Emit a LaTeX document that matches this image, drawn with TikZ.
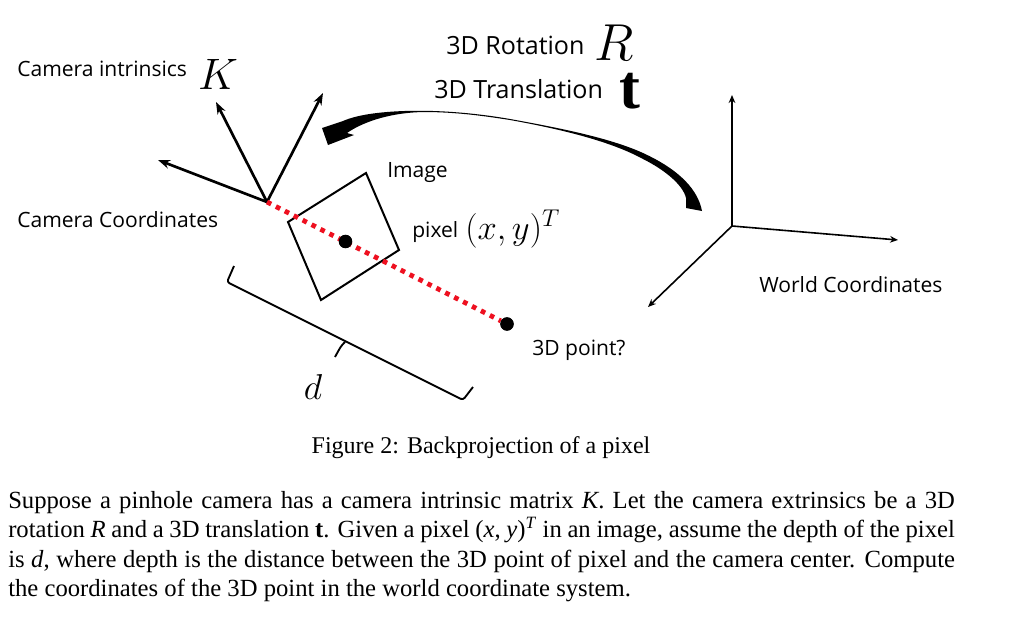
\RequirePackage{fix-cm}
\documentclass[tikz,border=0pt]{standalone}
\usepackage{amsmath,amssymb}
\usepackage{fontspec}
\usepackage{xcolor}
\setmainfont{Liberation Serif}
\newfontfamily\labelfont{Open Sans}
\usetikzlibrary{arrows.meta,positioning,calc}
\definecolor{rayred}{RGB}{238,16,32}

\begin{document}
\begin{tikzpicture}[
    x=0.75pt, y=-0.75pt,
    lbl/.style={inner sep=0pt, anchor=west, font=\labelfont\fontsize{15.8}{19}\selectfont},
    biglbl/.style={lbl, font=\labelfont\fontsize{18.8}{22}\selectfont},
    axis/.style={-{Stealth[length=9pt,width=6.5pt]}, line width=2pt},
    waxis/.style={-{Stealth[length=6pt,width=5pt]}, line width=1.2pt},
    pt/.style={circle, fill=black, inner sep=0pt, minimum size=10pt},
    ray/.style={rayred, line width=3.6pt, dash pattern=on 3.5pt off 4pt},
    bracket/.style={line width=1.4pt, rounded corners=2pt}
]
\useasboundingbox (0,0) rectangle (1024,632);
% camera frame
\coordinate (cam) at (267,202);
\coordinate (camx) at (158,160);
\coordinate (camy) at (216,102);
\coordinate (camz) at (323,93);
\draw[axis] (cam) -- (camx);
\draw[axis] (cam) -- (camy);
\draw[axis] (cam) -- (camz);
% world frame
\coordinate (world) at (732,226);
\coordinate (worldx) at (898,240);
\coordinate (worldy) at (732,95);
\coordinate (worldz) at (648,307);
\draw[waxis] (world) -- (worldx);
\draw[waxis] (world) -- (worldy);
\draw[waxis] (world) -- (worldz);
% image plane
\coordinate (ia) at (288,222);
\coordinate (ib) at (366,173);
\coordinate (ic) at (399,250);
\coordinate (id) at (321,300);
\draw[line width=1.5pt, line join=miter] (ia) -- (ib) -- (ic) -- (id) -- cycle;
% ray and points
\node[pt] (pixel) at (345.5,241.5) {};
\node[pt] (point) at (507,324) {};
\draw[ray] (cam) -- (point);
\node[pt] at (pixel) {};
\node[pt] at (point) {};
% depth bracket
\coordinate (ba) at (234,266);
\coordinate (bb) at (227,282);
\coordinate (bc) at (463,400);
\coordinate (bd) at (473,387);
\coordinate (be) at (345,342);
\coordinate (bf) at (335,357);
\draw[bracket] (ba) -- (bb) -- (bc) -- (bd);
\draw[line width=1.4pt] (be) .. controls (341,346) .. (bf);
% extrinsics arrow
\fill (702,211) .. controls (698,190) and (680,170) .. (643,153)
    .. controls (610,138) and (560,128) .. (510,119)
    .. controls (470,112) and (420,108) .. (377,113)
    .. controls (360,115) and (350,118) .. (343,121)
    -- (322,128) -- (328,145) -- (354,135) -- (347,133)
    .. controls (360,124) and (385,113) .. (423,112)
    .. controls (460,112) and (490,117) .. (510,120)
    .. controls (560,129) and (610,141) .. (643,159)
    .. controls (665,170) and (683,185) .. (686,198)
    -- (686,208) -- cycle;
% labels
\node[lbl] (intr) at (17,69) {Camera intrinsics};
\node[inner sep=0pt, font=\fontsize{33}{36}\selectfont] (kmat) at (218,74) {$K$};
\node[biglbl] (rot) at (446,45) {3D Rotation};
\node[inner sep=0pt, font=\fontsize{39}{41}\selectfont] (rmat) at (614,43) {$R$};
\node[biglbl] (trans) at (434,89) {3D Translation};
\node[inner sep=0pt, font=\fontsize{47}{50}\selectfont] (tvec) at (629.5,91) {$\mathbf{t}$};
\node[lbl] (image) at (387,173) {Image};
\node[lbl] (camco) at (17,220) {Camera Coordinates};
\node[lbl] (pix) at (412,232) {pixel};
\node[inner sep=0pt, anchor=west, font=\fontsize{26}{28}\selectfont] (xy) at (465,229) {$(x,y)^T$};
\node[lbl] (wcoord) at (759,285) {World Coordinates};
\node[lbl] (qpoint) at (532,350) {3D point?};
\node[inner sep=0pt, font=\fontsize{27}{29}\selectfont] (depth) at (313,387) {$d$};
% caption and body
\node[inner sep=0pt, font=\fontsize{18}{21}\selectfont] (cap) at (481,448) {Figure 2: Backprojection of a pixel};
\node[inner sep=0pt, anchor=north west, text width=710pt, align=justify, font=\fontsize{18.5}{22.1}\selectfont] (body) at (8,491) {Suppose a pinhole camera has a camera intrinsic matrix \textit{K}. Let the camera extrinsics be a 3D\linebreak
rotation \textit{R} and a 3D translation \textbf{t}. Given a pixel (\textit{x}, \textit{y})\textsuperscript{\textit{T}} in an image, assume the depth of the pixel\linebreak
is \textit{d}, where depth is the distance between the 3D point of pixel and the camera center. Compute\linebreak
the coordinates of the 3D point in the world coordinate system.};
\end{tikzpicture}
\end{document}
